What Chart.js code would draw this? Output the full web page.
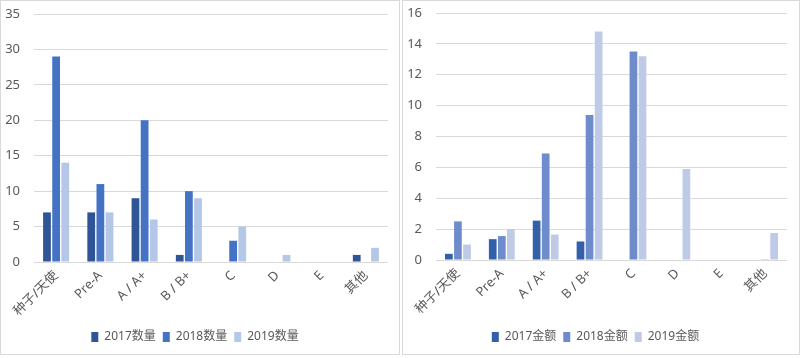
<!DOCTYPE html>
<html><head><meta charset="utf-8">
<script src="https://cdn.jsdelivr.net/npm/chart.js@4/dist/chart.umd.min.js"></script>
<style>
html,body{margin:0;padding:0;background:#fff;width:800px;height:358px;overflow:hidden;}
.box{position:absolute;top:0;height:355px;border:1px solid #d9d9d9;background:#fff;box-sizing:border-box;}
#b1{left:0;width:400px;}
#b2{left:402px;width:398px;}
.wrap{position:absolute;top:1px;left:1px;right:1px;bottom:1px;}
</style></head><body>
<div class="box" id="b1"><div class="wrap"><canvas id="c1"></canvas></div></div>
<div class="box" id="b2"><div class="wrap"><canvas id="c2"></canvas></div></div>
<script>
const categories = ['种子/天使','Pre-A','A / A+','B / B+','C','D','E','其他'];
const count2017 = [7,7,9,1,0,0,0,1];
const count2018 = [29,11,20,10,3,0,0,0];
const count2019 = [14,7,6,9,5,1,0,2];
const amount2017 = [0.4,1.35,2.55,1.2,0,0,0,0];
const amount2018 = [2.5,1.55,6.9,9.4,13.5,0,0,0.05];
const amount2019 = [1.0,2.0,1.65,14.8,13.2,5.9,0,1.75];
const countLabels = ['2017数量','2018数量','2019数量'];
const amountLabels = ['2017金额','2018金额','2019金额'];

const FONT = '"Noto Sans", "Noto Sans CJK SC", sans-serif';
Chart.defaults.font.family = FONT;
Chart.defaults.color = '#595959';

function makeChart(id, labels, series, colors, max, step, padRight, xH, padTop){
  new Chart(document.getElementById(id), {
    type:'bar',
    data:{labels:categories, datasets: series.map((d,i)=>({
      label:labels[i], data:d, backgroundColor:colors[i], borderWidth:0,
      barPercentage:0.85, categoryPercentage:0.62
    }))},
    options:{
      responsive:true, maintainAspectRatio:false, animation:false,
      layout:{padding:{left:0,right:padRight,top:padTop,bottom:0}},
      plugins:{
        tooltip:{enabled:false},
        legend:{position:'bottom', labels:{boxWidth:7, boxHeight:10, padding:7, font:{size:12}, color:'#595959'}}
      },
      scales:{
        x:{grid:{display:false, drawTicks:false}, border:{display:false},
           ticks:{minRotation:45, maxRotation:45, padding:6, font:{size:13}, color:'#595959'},
           afterFit:(s)=>{s.height=xH;}},
        y:{min:0, max:max, grid:{color:'#d9d9d9', drawTicks:false}, border:{display:false},
           ticks:{stepSize:step, padding:14, font:{size:13}, color:'#595959'},
           afterFit:(s)=>{s.width=32; s.paddingTop=0; s.paddingBottom=0;}}
      }
    }
  });
}
makeChart('c1', countLabels, [count2017,count2018,count2019], ['#2F5597','#4472C4','#B4C7E7'], 35, 5, 10, 62, 12);
makeChart('c2', amountLabels, [amount2017,amount2018,amount2019], ['#3360A8','#6E8CCB','#BFCAE6'], 16, 2, 11, 64, 11);
</script>
</body></html>
